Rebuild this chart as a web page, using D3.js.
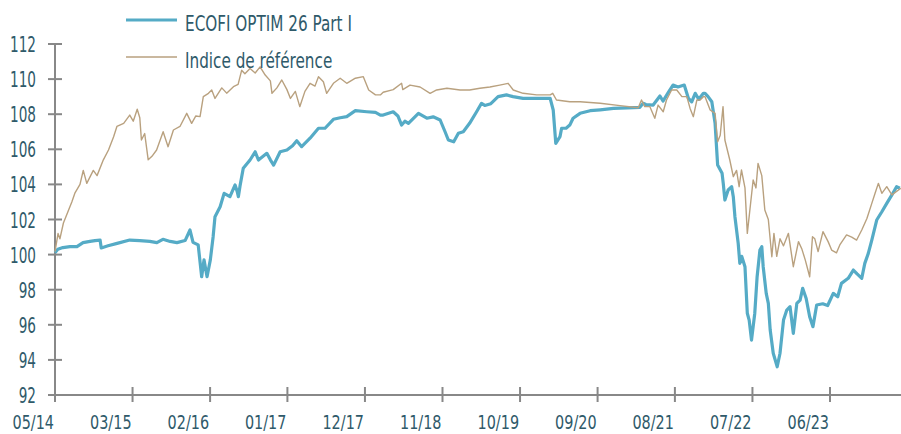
<!DOCTYPE html>
<html>
<head>
<meta charset="utf-8">
<script src="https://cdn.jsdelivr.net/npm/d3@7"></script>
<style>
  body { margin: 0; background: #fff; }
  svg { display: block; }
  text { font-family: "DejaVu Sans Condensed", "DejaVu Sans", sans-serif; font-stretch: condensed; fill: #2f5a6a; }
</style>
</head>
<body>
<div id="chart"></div>
<script>
// ECOFI OPTIM 26 Part I vs indice de référence (base 100)

const seriesNames = ["ECOFI OPTIM 26 Part I", "Indice de référence"];
const xTickLabels = ["05/14", "03/15", "02/16", "01/17", "12/17", "11/18", "10/19", "09/20", "08/21", "07/22", "06/23"];

const fundDates = [
  "2014-05-01","2014-05-13","2014-06-04","2014-07-04","2014-08-03","2014-08-29","2014-09-28","2014-10-19","2014-11-10","2014-11-15","2014-12-14",
  "2015-01-22","2015-03-17","2015-04-29","2015-06-11","2015-07-11","2015-08-06","2015-09-06","2015-10-05","2015-11-09","2015-11-30","2015-12-13",
  "2016-01-04","2016-01-19","2016-01-29","2016-02-11","2016-02-25","2016-03-08","2016-03-16","2016-04-07","2016-04-24","2016-05-19","2016-06-10","2016-06-19","2016-06-24","2016-07-01","2016-07-15","2016-08-13","2016-09-04","2016-09-18","2016-10-24","2016-11-08","2016-11-22","2016-12-20",
  "2017-01-18","2017-02-11","2017-03-01","2017-03-22","2017-04-27","2017-06-02","2017-06-30","2017-08-05","2017-09-03","2017-10-01","2017-11-07","2017-12-26",
  "2018-02-01","2018-02-22","2018-03-06","2018-04-18","2018-05-08","2018-05-24","2018-06-07","2018-06-22","2018-08-04","2018-09-09","2018-10-06","2018-11-05","2018-11-26","2018-12-10",
  "2019-01-02","2019-01-22","2019-02-12","2019-03-11","2019-04-10","2019-05-01","2019-05-15","2019-06-10","2019-07-11","2019-08-16","2019-09-13","2019-10-26","2019-12-24",
  "2020-02-19","2020-03-03","2020-03-14","2020-04-01","2020-04-08","2020-04-27","2020-05-13","2020-05-27","2020-06-26","2020-08-08","2020-09-20","2020-11-16",
  "2021-01-14","2021-03-09","2021-03-23","2021-04-04","2021-05-05","2021-06-03","2021-06-16","2021-07-07","2021-07-29","2021-08-19","2021-09-15","2021-10-03","2021-10-17","2021-11-01","2021-11-16","2021-12-06","2021-12-13","2021-12-26",
  "2022-01-11","2022-01-25","2022-02-05","2022-02-24","2022-03-01","2022-03-08","2022-03-22","2022-04-06","2022-04-13","2022-04-20","2022-05-04","2022-05-11","2022-05-19","2022-06-02","2022-06-12","2022-06-20","2022-06-30","2022-07-14","2022-07-24","2022-08-05","2022-08-13","2022-08-19","2022-09-01","2022-09-10","2022-09-18","2022-10-01","2022-10-18","2022-10-30","2022-11-14","2022-11-28","2022-12-12","2022-12-26",
  "2023-01-10","2023-01-24","2023-02-04","2023-02-19","2023-03-06","2023-03-20","2023-04-05","2023-05-01","2023-05-22","2023-06-15","2023-07-04","2023-07-20","2023-08-18","2023-09-09","2023-09-25","2023-10-15","2023-10-28","2023-11-12","2023-11-27","2023-12-18",
  "2024-01-09","2024-01-30","2024-02-21","2024-03-12","2024-03-26"
];
const fundValues = [
  100.11,100.3,100.4,100.45,100.45,100.68,100.75,100.8,100.83,100.38,100.5,
  100.64,100.83,100.8,100.75,100.68,100.87,100.75,100.68,100.8,101.4,100.7,
  100.55,98.74,99.7,98.74,99.7,101.02,102.16,102.73,103.49,103.3,103.97,103.6,103.3,103.9,104.92,105.39,105.86,105.39,105.77,105.4,105.1,105.86,
  105.96,106.2,106.49,106.15,106.63,107.2,107.2,107.71,107.8,107.86,108.2,108.14,
  108.1,107.95,107.95,108.14,107.9,107.38,107.6,107.48,108.05,107.77,107.85,107.67,107.0,106.53,
  106.43,106.91,107.0,107.48,108.14,108.62,108.5,108.6,109.0,109.1,109.0,108.9,108.9,
  108.9,108.24,106.34,106.72,107.2,107.2,107.38,107.77,108.05,108.2,108.25,108.33,
  108.36,108.39,108.62,108.55,108.52,109.04,108.75,109.2,109.66,109.55,109.66,108.9,108.7,109.19,108.85,109.19,109.19,109.0,
  108.71,107.48,105.1,104.63,104.06,103.11,103.68,103.87,103.3,102.16,100.64,99.5,99.9,99.31,96.66,96.27,95.13,96.66,98.74,100.26,100.45,99.31,97.79,97.22,95.7,94.38,93.61,94.38,96.27,96.84,97.03,95.51,
  97.22,97.41,98.08,97.5,96.46,95.89,97.13,97.2,97.1,97.79,97.6,98.36,98.65,99.12,98.9,98.65,99.5,100.07,100.83,101.97,
  102.44,102.92,103.4,103.87,103.78
];

const refDates = [
  "2014-05-01","2014-05-14","2014-05-22","2014-06-06","2014-06-27","2014-07-12","2014-07-25","2014-08-16","2014-08-30","2014-09-14","2014-10-12","2014-10-28","2014-11-24","2014-12-16",
  "2015-01-07","2015-01-21","2015-02-19","2015-03-17","2015-04-01","2015-04-18","2015-04-29","2015-05-06","2015-05-20","2015-06-04","2015-06-20","2015-07-10","2015-08-07","2015-08-28","2015-09-20","2015-10-18","2015-11-16","2015-12-07","2015-12-25",
  "2016-01-12","2016-01-26","2016-02-17","2016-03-02","2016-03-16","2016-04-14","2016-05-05","2016-06-03","2016-06-23","2016-07-08","2016-07-22","2016-08-13","2016-09-04","2016-09-25","2016-10-17","2016-11-08","2016-11-15","2016-12-06","2016-12-27",
  "2017-01-18","2017-02-02","2017-02-23","2017-03-14","2017-04-05","2017-04-27","2017-05-18","2017-06-02","2017-06-23","2017-07-07","2017-08-05","2017-09-03","2017-10-01","2017-11-07","2017-12-11",
  "2018-01-03","2018-02-01","2018-02-22","2018-03-06","2018-04-18","2018-05-24","2018-05-29","2018-06-29","2018-08-11","2018-09-23","2018-10-21","2018-12-04",
  "2019-01-29","2019-03-11","2019-04-24","2019-06-06","2019-07-18","2019-08-23","2019-09-14","2019-10-26","2019-12-23",
  "2020-02-19","2020-03-01","2020-03-17","2020-05-13","2020-06-26","2020-09-20","2020-12-14",
  "2021-03-02","2021-03-16","2021-03-30","2021-04-21","2021-05-12","2021-05-26","2021-06-17","2021-07-01","2021-07-23","2021-08-14","2021-09-05","2021-09-26","2021-10-10","2021-10-24","2021-11-08","2021-11-22","2021-12-06","2021-12-13",
  "2022-01-04","2022-01-25","2022-02-05","2022-02-16","2022-02-28","2022-03-08","2022-03-29","2022-04-13","2022-04-27","2022-05-08","2022-05-18","2022-06-02","2022-06-12","2022-06-23","2022-07-07","2022-07-19","2022-07-28","2022-08-13","2022-08-26","2022-09-10","2022-09-25","2022-10-04","2022-10-16","2022-10-30","2022-11-14","2022-12-05","2022-12-26",
  "2023-01-17","2023-02-01","2023-02-15","2023-03-06","2023-03-18","2023-03-28","2023-04-11","2023-05-02","2023-05-24","2023-06-08","2023-06-29","2023-07-13","2023-08-11","2023-09-02","2023-09-23","2023-10-15","2023-11-06","2023-11-27","2023-12-11","2023-12-25",
  "2024-01-09","2024-01-30","2024-02-21","2024-03-12","2024-03-30"
];
const refValues = [
  100.17,101.2,100.9,101.8,102.5,103.0,103.5,104.0,104.8,104.06,104.8,104.5,105.4,105.96,
  106.72,107.3,107.48,107.95,107.6,108.28,107.8,106.53,106.9,105.4,105.6,105.96,107.0,106.15,107.1,107.3,108.05,107.48,107.9,
  107.86,109.0,109.19,109.38,108.9,109.5,109.2,109.57,109.7,110.5,110.3,110.6,110.35,110.7,110.23,109.9,109.19,109.5,109.95,
  109.4,108.9,109.3,108.43,109.3,109.76,109.6,110.14,109.85,109.19,109.76,110.05,109.76,110.05,110.14,
  109.38,109.1,109.1,109.25,109.4,109.76,109.4,109.66,109.55,109.19,109.38,109.48,
  109.38,109.38,109.48,109.55,109.66,109.76,109.38,109.19,109.1,
  109.1,109.19,108.81,108.71,108.71,108.62,108.49,
  108.37,108.81,108.43,108.43,107.77,108.52,108.14,108.81,109.38,109.38,109.0,109.0,108.33,107.86,108.81,108.81,109.0,109.0,
  108.24,108.05,106.43,106.8,108.43,106.53,105.39,104.44,104.8,103.87,104.82,103.8,101.21,102.54,104.25,103.8,105.2,104.5,102.54,102.0,99.88,101.21,99.9,100.9,100.5,101.21,99.31,
  100.74,100.3,99.7,98.74,101.02,100.9,100.17,101.31,100.74,100.26,100.1,100.55,101.12,101.0,100.83,101.4,102.06,102.92,103.5,104.06,
  103.49,103.87,103.4,103.6,103.78
];

const width = 901;
const height = 434;
const margin = { top: 44, right: 0, bottom: 39, left: 55 };

const parseDate = d3.timeParse("%Y-%m-%d");
const startDate = parseDate("2014-05-01");
const endDate = parseDate("2024-03-31");

const fund = fundDates.map((d, i) => ({ date: parseDate(d), value: fundValues[i] }));
const ref = refDates.map((d, i) => ({ date: parseDate(d), value: refValues[i] }));

const x = d3.scaleTime()
  .domain([startDate, endDate])
  .range([margin.left, width - margin.right]);

const y = d3.scaleLinear()
  .domain([92, 112])
  .range([height - margin.bottom, margin.top]);

// axis ticks are spaced evenly (category axis in the source chart)
const tickStep = 331.8;
const xTicks = xTickLabels.map((lab, i) => d3.timeDay.offset(startDate, Math.round(i * tickStep)));

// the source font is narrower than anything installed: squeeze the glyphs
const squeeze = (sel, k) => sel.each(function () {
  const w = this.getComputedTextLength();
  d3.select(this).attr("textLength", w * k).attr("lengthAdjust", "spacingAndGlyphs");
});

const svg = d3.select("#chart")
  .append("svg")
  .attr("width", width)
  .attr("height", height);

const line = d3.line()
  .x(d => x(d.date))
  .y(d => y(d.value));

const axisColor = "#888888";

// y axis
const yAxis = svg.append("g");
yAxis.append("line")
  .attr("x1", margin.left).attr("x2", margin.left)
  .attr("y1", y(112)).attr("y2", y(92))
  .attr("stroke", axisColor).attr("stroke-width", 2);
yAxis.selectAll(".ytick")
  .data(d3.range(92, 113, 2))
  .join("g")
  .attr("transform", d => `translate(0,${y(d)})`)
  .call(g => g.append("line")
    .attr("x1", margin.left - 7).attr("x2", margin.left + 7)
    .attr("stroke", axisColor).attr("stroke-width", 2))
  .call(g => g.append("text")
    .attr("x", 36)
    .attr("y", 8)
    .attr("text-anchor", "end")
    .attr("font-size", 21)
    .text(d => d)
    .call(squeeze, 0.72));

// x axis
const xAxis = svg.append("g");
xAxis.append("line")
  .attr("x1", margin.left).attr("x2", width)
  .attr("y1", y(92)).attr("y2", y(92))
  .attr("stroke", axisColor).attr("stroke-width", 2);
xAxis.selectAll(".xtick")
  .data(xTicks)
  .join("g")
  .attr("transform", d => `translate(${x(d)},${y(92)})`)
  .call(g => g.append("line")
    .attr("y1", -8).attr("y2", 7)
    .attr("stroke", axisColor).attr("stroke-width", 2))
  .call(g => g.append("text")
    .attr("x", -1)
    .attr("y", 34)
    .attr("text-anchor", "end")
    .attr("font-size", 20)
    .text((d, i) => xTickLabels[i])
    .call(squeeze, 0.8));

// series
svg.append("path")
  .datum(fund)
  .attr("fill", "none")
  .attr("stroke", "#55abc6")
  .attr("stroke-width", 3.2)
  .attr("stroke-linejoin", "round")
  .attr("d", line);

svg.append("path")
  .datum(ref)
  .attr("fill", "none")
  .attr("stroke", "#b9a17f")
  .attr("stroke-width", 1.4)
  .attr("stroke-linejoin", "round")
  .attr("d", line);

// legend
const legend = svg.append("g")
  .selectAll("g")
  .data(seriesNames)
  .join("g")
  .attr("transform", (d, i) => `translate(126,${20 + i * 37})`);
legend.append("line")
  .attr("x2", 51)
  .attr("stroke", (d, i) => i === 0 ? "#55abc6" : "#b9a17f")
  .attr("stroke-width", (d, i) => i === 0 ? 3.2 : 1.4);
legend.append("text")
  .attr("x", 59)
  .attr("y", 11)
  .attr("font-size", 22)
  .text(d => d)
  .call(squeeze, 0.77);
</script>
</body>
</html>
